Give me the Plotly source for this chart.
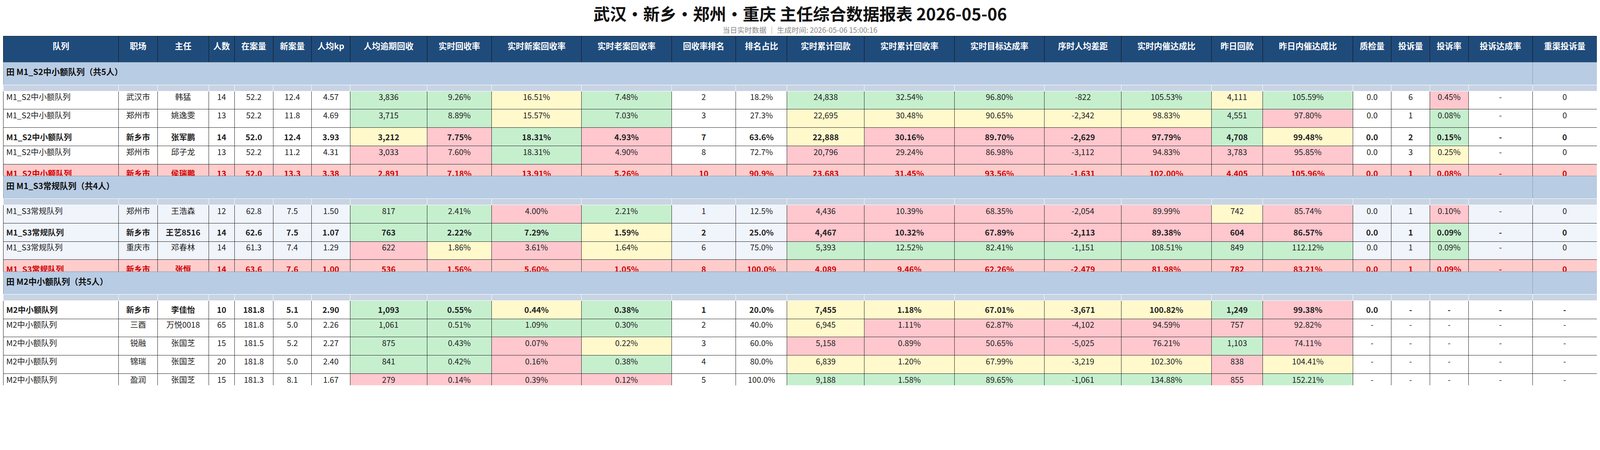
import plotly.graph_objects as go

# the page comes out about 1.17x larger than the layout size, so lay out in
# reference pixels and shrink every pixel size by S
S = 0.85
W, H = 4800, 1152

columns = ['队列', '职场', '主任', '人数', '在案量', '新案量', '人均kp', '人均逾期回收',
           '实时回收率', '实时新案回收率', '实时老案回收率', '回收率排名', '排名占比',
           '实时累计回款', '实时累计回收率', '实时目标达成率', '序时人均差距', '实时内催达成比',
           '昨日回款', '昨日内催达成比', '质检量', '投诉量', '投诉率', '投诉达成率', '重渠投诉量']
col_px = [348, 117, 154, 78, 116, 116, 116, 232, 194, 271, 271, 194, 154, 233, 271, 271,
          232, 271, 155, 271, 116, 116, 116, 193, 194]

groups = ['田 M1_S2中小额队列（共5人）', '田 M1_S3常规队列（共4人）', '田 M2中小额队列（共5人）']
group_sizes = [5, 4, 5]

team = ['M1_S2中小额队列'] * 5 + ['M1_S3常规队列'] * 4 + ['M2中小额队列'] * 5
site = ['武汉市', '郑州市', '新乡市', '郑州市', '新乡市', '郑州市', '新乡市', '重庆市', '新乡市',
        '新乡市', '三酉', '锐融', '锦瑞', '盈润']
leader = ['韩猛', '姚逸雯', '张军鹏', '邱子龙', '侯瑞鹏', '王浩森', '王艺8516', '邓春林', '张恒',
          '李佳怡', '万悦0018', '张国芝', '张国芝', '张国芝']
heads = [14, 13, 14, 13, 13, 12, 14, 14, 14, 10, 65, 15, 20, 15]
in_case = [52.2, 52.2, 52.0, 52.2, 52.0, 62.8, 62.6, 61.3, 63.6, 181.8, 181.8, 181.5, 181.8, 181.3]
new_case = [12.4, 11.8, 12.4, 11.2, 13.3, 7.5, 7.5, 7.4, 7.6, 5.1, 5.0, 5.2, 5.0, 8.1]
kp = [4.57, 4.69, 3.93, 4.31, 3.38, 1.50, 1.07, 1.29, 1.00, 2.90, 2.26, 2.27, 2.40, 1.67]
overdue = [3836, 3715, 3212, 3033, 2891, 817, 763, 622, 536, 1093, 1061, 875, 841, 279]
rate = [9.26, 8.89, 7.75, 7.60, 7.18, 2.41, 2.22, 1.86, 1.56, 0.55, 0.51, 0.43, 0.42, 0.14]
new_rate = [16.51, 15.57, 18.31, 18.31, 13.91, 4.00, 7.29, 3.61, 5.60, 0.44, 1.09, 0.07, 0.16, 0.39]
old_rate = [7.48, 7.03, 4.93, 4.90, 5.26, 2.21, 1.59, 1.64, 1.05, 0.38, 0.30, 0.22, 0.38, 0.12]
rank = [2, 3, 7, 8, 10, 1, 2, 6, 8, 1, 2, 3, 4, 5]
rank_pct = [18.2, 27.3, 63.6, 72.7, 90.9, 12.5, 25.0, 75.0, 100.0, 20.0, 40.0, 60.0, 80.0, 100.0]
cum = [24838, 22695, 22888, 20796, 23683, 4436, 4467, 5393, 4089, 7455, 6945, 5158, 6839, 9188]
cum_rate = [32.54, 30.48, 30.16, 29.24, 31.45, 10.39, 10.32, 12.52, 9.46, 1.18, 1.11, 0.89, 1.20, 1.58]
target = [96.80, 90.65, 89.70, 86.98, 93.56, 68.35, 67.89, 82.41, 62.26, 67.01, 62.87, 50.65, 67.99, 89.65]
gap = [-822, -2342, -2629, -3112, -1631, -2054, -2113, -1151, -2479, -3671, -4102, -5025, -3219, -1061]
inner = [105.53, 98.83, 97.79, 94.83, 102.00, 89.99, 89.38, 108.51, 81.98, 100.82, 94.59, 76.21, 102.30, 134.88]
yday = [4111, 4551, 4708, 3783, 4405, 742, 604, 849, 782, 1249, 757, 1103, 838, 855]
yday_inner = [105.59, 97.80, 99.48, 95.85, 105.96, 85.74, 86.57, 112.12, 83.21, 99.38, 92.82, 74.11, 104.41, 152.21]
qc = [0.0] * 10 + [None] * 4
complaints = [6, 1, 2, 3, 1, 1, 1, 1, 1, None, None, None, None, None]
comp_rate = [0.45, 0.08, 0.15, 0.25, 0.08, 0.10, 0.09, 0.09, 0.09, None, None, None, None, None]
comp_target = [None] * 14
reroute = [0] * 9 + [None] * 5

bold_rows = [2, 6, 9]
alert_rows = [4, 8]
# conditional colours for columns 7,8,9,10,13,14,15,16,17,18,19,22
flag_cols = [7, 8, 9, 10, 13, 14, 15, 16, 17, 18, 19, 22]
flags = ['GGYGGGGGGYGR', 'GGYGYYYYYGRG', 'YRGRYRRRRGYG', 'RRGRRRRRRRRY', 'RRRRRRRRRRRR',
         'GGRGRRRRRYRR', 'GGGYRRRRRRRG', 'RYRYGGGGGGGG', 'RRRRRRRRRRRR',
         'GGYGYYYYYGRW', 'GGGGYRRRRRRW', 'GGRYRRRRRGRW', 'GGRGYYYYYRYW', 'RRRRGGGGGRGW']
palette = {'G': '#C6EFCE', 'Y': '#FFF9CC', 'R': '#FFC7CE'}


def f(v, fmt):
    return '-' if v is None else fmt.format(v)


raw = [
    team, site, leader, [str(v) for v in heads],
    [f(v, '{:.1f}') for v in in_case], [f(v, '{:.1f}') for v in new_case],
    [f(v, '{:.2f}') for v in kp], [f(v, '{:,}') for v in overdue],
    [f(v, '{:.2f}%') for v in rate], [f(v, '{:.2f}%') for v in new_rate],
    [f(v, '{:.2f}%') for v in old_rate], [str(v) for v in rank],
    [f(v, '{:.1f}%') for v in rank_pct], [f(v, '{:,}') for v in cum],
    [f(v, '{:.2f}%') for v in cum_rate], [f(v, '{:.2f}%') for v in target],
    [f(v, '{:,}') for v in gap], [f(v, '{:.2f}%') for v in inner],
    [f(v, '{:,}') for v in yday], [f(v, '{:.2f}%') for v in yday_inner],
    [f(v, '{:.1f}') for v in qc], [f(v, '{}') for v in complaints],
    [f(v, '{:.2f}%') for v in comp_rate], [f(v, '{}') for v in comp_target],
    [f(v, '{}') for v in reroute],
]

FONT = 'Noto Sans CJK SC'
fig = go.Figure()


def dom(top, bot):
    return [max(0, 1 - bot / H), 1 - top / H]


fig.add_trace(go.Table(
    domain=dict(x=[0, 1], y=dom(100, 180)),
    columnwidth=col_px,
    header=dict(values=[f'<b>{c}</b>' for c in columns], height=78 * S, fill_color='#1F4B7B',
                line=dict(color='#111111', width=1),
                font=dict(family=FONT, size=25 * S, color='white'), align='center'),
    cells=dict(values=[[] for _ in columns]),
))

y = 178
start = 0
for gi, gname in enumerate(groups):
    fig.add_trace(go.Table(
        domain=dict(x=[0, 1], y=dom(y, y + 70)),
        columnwidth=[sum(col_px[:-1]), col_px[-1]],
        header=dict(values=[f'<b>{gname}</b>', ''], height=68 * S, fill_color='#B8CCE4',
                    line=dict(color='#8899AA', width=1),
                    font=dict(family=FONT, size=25 * S, color='#111111'), align='left'),
        cells=dict(values=[[], []]),
    ))
    y += 68
    n = group_sizes[gi]
    rows = list(range(start, start + n))
    base = '#F0F4FB' if gi == 1 else 'white'
    vals, fills, colors = [], [], []
    for ci in range(len(columns)):
        cv, cf, cc = [], [], []
        for r in rows:
            t = raw[ci][r]
            bold = r in bold_rows or r in alert_rows
            cv.append(f'<b>{t}</b>' if bold else t)
            if r in alert_rows:
                cf.append('#FFCCCC')
                cc.append('#D00000')
            else:
                fill = base
                if ci in flag_cols:
                    fill = palette.get(flags[r][flag_cols.index(ci)], base)
                cf.append(fill)
                cc.append('#222222')
        vals.append(cv)
        fills.append(cf)
        colors.append(cc)
    fig.add_trace(go.Table(
        domain=dict(x=[0, 1], y=dom(y, y + 55 * n + 2)),
        columnwidth=col_px,
        header=dict(values=[], height=0),
        cells=dict(values=vals, height=55 * S, fill_color=fills,
                   line=dict(color='#222222', width=1),
                   font=dict(family=FONT, size=24 * S, color=colors),
                   align=['left'] + ['center'] * (len(columns) - 1)),
    ))
    y += 55 * n
    start += n

fig.update_layout(
    width=round(W * S), height=round(H * S),
    margin=dict(l=0, r=0, t=0, b=0),
    paper_bgcolor='white',
    font=dict(family=FONT),
    annotations=[
        dict(text='<b>武汉•新乡•郑州•重庆 主任综合数据报表 2026-05-06</b>', x=0.5, y=1 - 30 / H,
             xref='paper', yref='paper', xanchor='center', yanchor='middle', showarrow=False,
             font=dict(size=50 * S, color='#111111')),
        dict(text='当日实时数据 │ 生成时间: 2026-05-06 15:00:16', x=0.5, y=1 - 79 / H,
             xref='paper', yref='paper', xanchor='center', yanchor='middle', showarrow=False,
             font=dict(size=22 * S, color='#888888')),
    ],
)

fig.write_html('out.html')
